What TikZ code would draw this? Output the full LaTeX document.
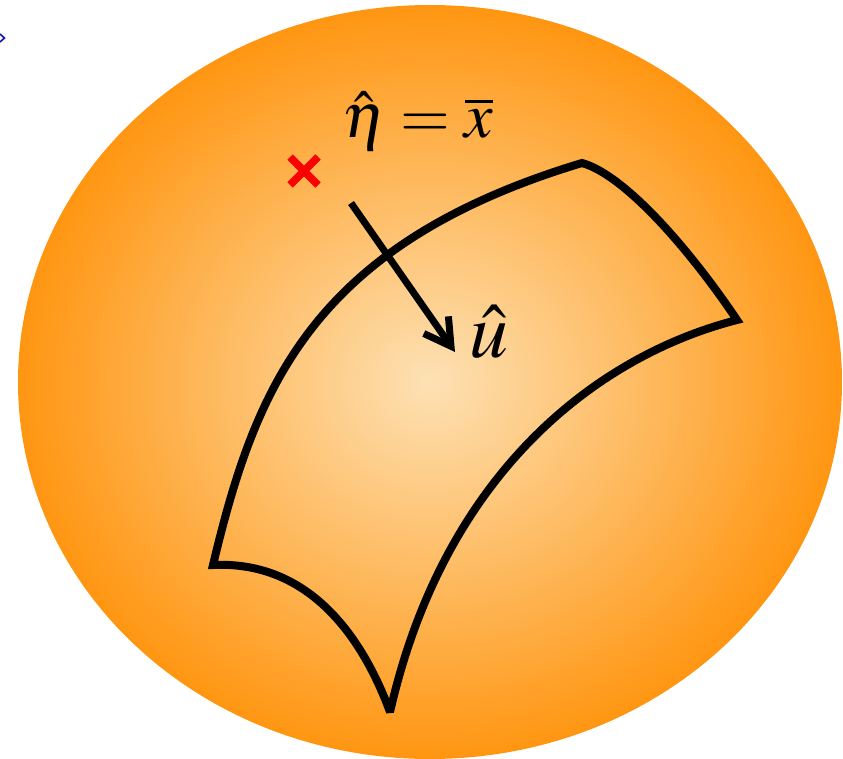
\documentclass[tikz,border=0pt]{standalone}
\usepackage{mathptmx}
\usetikzlibrary{arrows.meta}
\definecolor{ballorange}{RGB}{255,150,18}
\definecolor{ballcream}{RGB}{253,225,180}
\definecolor{markred}{RGB}{250,0,0}
\definecolor{tickblue}{RGB}{20,20,170}
\tikzset{
  surface/.style={line width=8pt,line join=miter,miter limit=3},
  pointer/.style={line width=7pt,-{Straight Barb[length=26pt,width=30pt]}},
  crossmark/.style={markred,line width=7.5pt},
  biglabel/.style={inner sep=0pt,anchor=base},
}
\begin{document}
\begin{tikzpicture}[x=1pt,y=-1pt]
  \useasboundingbox (0,0) rectangle (843,759);
  % shaded ball
  \shade[inner color=ballcream,outer color=ballorange] (430,382) ellipse [x radius=412,y radius=377];
  % small blue tick at the edge
  \draw[tickblue,line width=1.6pt] (0,34) -- (4.5,38) -- (0,42);

  % corners of the surface patch
  \coordinate (sw) at (213,565);
  \coordinate (nw) at (582,163);
  \coordinate (ne) at (737,320);
  \coordinate (tip) at (390,712);
  \draw[surface] (sw) .. controls (255,390) and (310,245) .. (nw)
    .. controls (625,175) and (690,250) .. (ne)
    .. controls (600,355) and (445,470) .. (tip)
    .. controls (368,652) and (318,560) .. (sw) -- cycle;

  % red cross for the sample mean
  \coordinate (mark) at (304,171);
  \draw[crossmark] ([shift={(-14,-14)}]mark) -- ([shift={(14,14)}]mark);
  \draw[crossmark] ([shift={(-14,14)}]mark) -- ([shift={(14,-14)}]mark);

  \node[biglabel,font=\fontsize{64}{70}\selectfont] (eta) at (418,138) {$\hat{\eta}=\overline{x}$};
  \node[biglabel,font=\fontsize{78}{80}\selectfont] (uhat) at (489,357) {$\hat{u}$};

  % projection arrow
  \coordinate (from) at (351,203);
  \coordinate (onto) at (455,352);
  \draw[pointer] (from) -- (onto);
\end{tikzpicture}
\end{document}
